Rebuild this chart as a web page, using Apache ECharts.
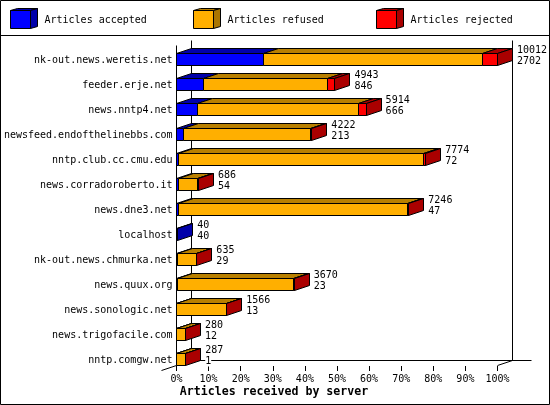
<!DOCTYPE html>
<html><head><meta charset="utf-8">
<style>html,body{margin:0;padding:0;background:#fff}#c{width:550px;height:405px}</style>
<script src="https://cdn.jsdelivr.net/npm/echarts@6/dist/echarts.min.js"></script>
</head><body><div id="c"></div>
<script>
var hosts = ['nk-out.news.weretis.net','feeder.erje.net','news.nntp4.net','newsfeed.endofthelinebbs.com','nntp.club.cc.cmu.edu','news.corradoroberto.it','news.dne3.net','localhost','nk-out.news.chmurka.net','news.quux.org','news.sonologic.net','news.trigofacile.com','nntp.comgw.net'];
var totals   = [10012,4943,5914,4222,7774,686,7246,40,635,3670,1566,280,287];
var accepted = [2702,846,666,213,72,54,47,40,29,23,13,12,1];
var rejected = [460,230,225,40,85,40,30,0,3,25,5,1,1];
var xTicks = [0,10,20,30,40,50,60,70,80,90,100];
var legendNames = ['Articles accepted','Articles refused','Articles rejected'];
var axisTitle = 'Articles received by server';

var FONT = '"DejaVu Sans Mono"';
var DX = 15, DY = 5, BAR_H = 12;
var maxTotal = Math.max.apply(null, totals);
function pct(v){ return v / maxTotal * 100; }
var palette = [
  {front:'#0000FF', top:'#0000AA', side:'#0000AA'},
  {front:'#FFAF00', top:'#B98000', side:'#AA7500'},
  {front:'#FF0000', top:'#AA0000', side:'#AA0000'}
];
function snap(v){ return Math.floor(v) + 0.5; }
var LINE = {stroke:'#000', lineWidth:1, fill:null};

function segmentSeries(k){
  var data = hosts.map(function(h,i){
    var refused = totals[i]-accepted[i]-rejected[i];
    var start = [0, accepted[i], accepted[i]+refused][k];
    var end = [accepted[i], accepted[i]+refused, totals[i]][k];
    var last = (k===2 && rejected[i]>0) || (k===0 && refused===0 && rejected[i]===0);
    return [i, pct(start), pct(end), last?1:0];
  });
  return {
    type:'custom', name:legendNames[k], coordinateSystem:'cartesian2d', clip:false, silent:true,
    data:data, encode:{y:0,x:[1,2]},
    renderItem:function(params,api){
      var i=api.value(0), a=api.coord([api.value(1),i]), b=api.coord([api.value(2),i]);
      var x0=snap(a[0]), x1=snap(b[0]), y=snap(a[1]), c=palette[k];
      if(api.value(2)<=api.value(1)) return {type:'group',children:[]};
      var kids=[
        {type:'polygon',shape:{points:[[x0,y],[x0+DX,y-DY],[x1+DX,y-DY],[x1,y]]},style:{fill:c.top,stroke:'#000',lineWidth:1}},
        {type:'rect',shape:{x:x0,y:y,width:x1-x0,height:BAR_H},style:{fill:c.front,stroke:'#000',lineWidth:1}}
      ];
      if(api.value(3)) kids.push({type:'polygon',shape:{points:[[x1,y],[x1+DX,y-DY],[x1+DX,y-DY+BAR_H],[x1,y+BAR_H]]},style:{fill:c.side,stroke:'#000',lineWidth:1}});
      return {type:'group',children:kids};
    }
  };
}

var frameSeries = {
  type:'custom', name:'frame', silent:true, clip:false, data:[[0,0]], encode:{x:0,y:1},
  renderItem:function(params,api){
    var l=snap(api.coord([0,0])[0]), r=snap(api.coord([100,0])[0]);
    var top=snap(api.coord([0,0])[1]-api.size([0,1])[1]/2), bot=top+325;
    function ln(x1,y1,x2,y2){return {type:'line',shape:{x1:x1,y1:y1,x2:x2,y2:y2},style:LINE};}
    return {type:'group',children:[
      ln(l,top+4,l,bot-1),
      ln(l+DX,top-1,l+DX,bot-DY-1),
      ln(r+DX,top-1,r+DX,bot-DY-1),
      ln(l+DX,bot-DY-1,r+34,bot-DY-1),
      ln(l,bot-1,l-DX,bot+4),
      ln(r,bot-1,r+DX,bot-DY-1)
    ]};
  }
};

var labelSeries = {
  type:'custom', name:'labels', silent:true, clip:false,
  data:hosts.map(function(h,i){return [i,pct(totals[i])];}), encode:{y:0,x:1},
  renderItem:function(params,api){
    var i=api.value(0), p=api.coord([api.value(1),i]), x=p[0]+DX+4.5, y=p[1];
    function t(s,dy){return {type:'text',x:x,y:y+dy,style:{text:String(s),font:'10px '+FONT,fill:'#000',textAlign:'left',textVerticalAlign:'middle',backgroundColor:'#fff'}};}
    return {type:'group',children:[t(totals[i],-3),t(accepted[i],8)]};
  }
};

var legendX = [10,193,376];
var graphic = [
  {type:'rect',shape:{x:0.5,y:0.5,width:549,height:404},style:{fill:null,stroke:'#000',lineWidth:1},silent:true},
  {type:'line',shape:{x1:0,y1:35.5,x2:550,y2:35.5},style:{stroke:'#000',lineWidth:1},silent:true},
  {type:'text',x:274,y:392,style:{text:axisTitle,font:'bold 11.6px '+FONT,fill:'#000',textAlign:'center',textVerticalAlign:'middle'}}
];
legendNames.forEach(function(n,k){
  var x=legendX[k]+0.5,y=10.5,w=20,h=18,c=palette[k];
  graphic.push({type:'polygon',shape:{points:[[x,y],[x+7,y-2],[x+w+7,y-2],[x+w,y]]},style:{fill:c.top,stroke:'#000',lineWidth:1}});
  graphic.push({type:'polygon',shape:{points:[[x+w,y],[x+w+7,y-2],[x+w+7,y+h-2],[x+w,y+h]]},style:{fill:c.side,stroke:'#000',lineWidth:1}});
  graphic.push({type:'rect',shape:{x:x,y:y,width:w,height:h},style:{fill:c.front,stroke:'#000',lineWidth:1}});
  graphic.push({type:'text',x:x+34,y:20,style:{text:n,font:'10px '+FONT,fill:'#000',textAlign:'left',textVerticalAlign:'middle'}});
});

var chart = echarts.init(document.getElementById('c'),null,{renderer:'canvas'});
chart.setOption({
  animation:false, backgroundColor:'#fff',
  grid:{left:176.5,top:41,width:321,height:325,containLabel:false},
  xAxis:{type:'value',min:0,max:100,interval:10,axisLine:{show:false},splitLine:{show:false},
    axisTick:{show:true,length:5,lineStyle:{color:'#000',width:1}},
    axisLabel:{margin:8,color:'#000',fontFamily:FONT,fontSize:10,formatter:function(v){return v+'%';},customValues:xTicks,hideOverlap:false}},
  yAxis:{type:'category',inverse:true,data:hosts,axisLine:{show:false},axisTick:{show:false},splitLine:{show:false},
    axisLabel:{margin:4,color:'#000',fontFamily:FONT,fontSize:10,interval:0,verticalAlign:'top',padding:[2,0,0,0]}},
  graphic:graphic,
  series:[frameSeries,segmentSeries(0),segmentSeries(1),segmentSeries(2),labelSeries]
});
</script></body></html>
